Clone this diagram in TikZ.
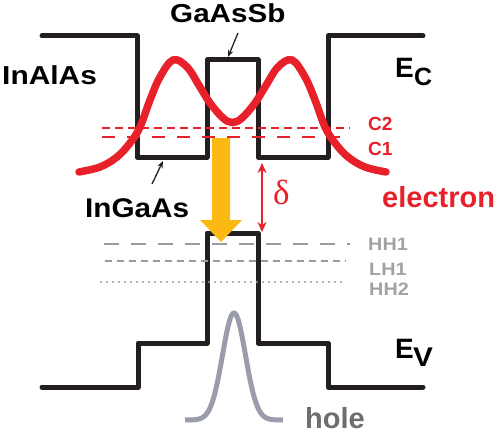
\documentclass[tikz,border=0pt]{standalone}
\usepackage{fontspec}
\setmainfont{Liberation Sans}
\newfontfamily\greekserif{Liberation Serif}
\usetikzlibrary{arrows.meta}
\definecolor{ered}{HTML}{E8202A}
\definecolor{egold}{HTML}{FDB913}
\definecolor{hgray}{HTML}{9A9CAB}
\definecolor{lgray}{HTML}{9B9B9B}
\definecolor{tgray}{HTML}{A2A2A2}
\definecolor{holetxt}{HTML}{6E6E6E}
\definecolor{bandc}{HTML}{231F20}
\newcommand{\fsz}[1]{\fontsize{#1}{#1}\selectfont\bfseries}
\begin{document}
\begin{tikzpicture}[x=1pt,y=-1pt,
  bandline/.style={draw=bandc,line width=5pt,line join=round,line cap=round},
  lbl/.style={anchor=base west,inner sep=0pt},
  ptr/.style={draw=bandc,line width=1.3pt,-{Stealth[length=7pt,width=5.5pt]}},
  redlevel/.style={draw=ered,line width=2.6pt},
  graylevel/.style={draw=lgray,line width=2.8pt}]
\useasboundingbox (0,0) rectangle (500,433);
% conduction band
\draw[bandline] (42,36) -- (137,36) -- (137,157) -- (207,157) -- (207,60) -- (258,60)
  -- (258,157) -- (328,157) -- (328,36) -- (423,36);
% valence band
\draw[bandline] (42,387) -- (138,387) -- (138,343) -- (207,343) -- (207,233) -- (258,233)
  -- (258,343) -- (328,343) -- (328,387) -- (423,387);
% electron levels
\draw[redlevel,dash pattern=on 8pt off 5pt] (102,128) -- (350,128);
\draw[redlevel,dash pattern=on 13pt off 12pt] (102,137) -- (350,137);
% electron wavefunction
\draw[ered,line width=7.5pt,line cap=round] plot[smooth,tension=0.6] coordinates {
 (79,172) (100,167) (117,157) (130,143) (140,127) (150,100) (160,77) (173,60)
 (187,67) (200,87) (210,103) (223,118) (232.5,122.5) (242,118) (255,103) (265,87)
 (278,67) (292,60) (305,77) (315,100) (325,127) (335,143) (348,157) (365,167) (386,172)};
% hole levels
\draw[graylevel,dash pattern=on 15pt off 12pt] (104,244) -- (350,244);
\draw[graylevel,dash pattern=on 7pt off 5pt] (105,261) -- (346,261);
\draw[graylevel,line width=2.2pt,line cap=round,dash pattern=on 0pt off 6pt] (101,282) -- (344,282);
% hole wavefunction
\draw[hgray,line width=5pt] plot[domain=185:283,samples=120] (\x,{420-107*exp(-((\x-234)^2)/264)});
% yellow transition arrow
\fill[egold] (212,138) -- (230,138) -- (230,220) -- (242,220) -- (221,242) -- (200,220) -- (212,220) -- cycle;
% delta arrow
\coordinate (cbot) at (262,163);
\coordinate (vtop) at (262,232);
\draw[ered,line width=2.4pt,{Stealth[length=10pt,width=9pt]}-{Stealth[length=10pt,width=9pt]}] (cbot) -- (vtop);
\node[anchor=base west,inner sep=0pt,text=ered] (delta) at (273,204) {\fontsize{35}{35}\selectfont\greekserif δ};
% labels
\node[lbl] (inalas) at (2,85) {\fsz{26}\scalebox{1.15}[1]{InAlAs}};
\node[lbl] (gaassb) at (170,23) {\fsz{26}\scalebox{1.14}[1]{GaAsSb}};
\node[lbl] (ingaas) at (85,217) {\fsz{27}\scalebox{1.1}[1]{InGaAs}};
\coordinate (p1s) at (152,184);
\coordinate (p1e) at (163,161);
\coordinate (p2s) at (238,33);
\coordinate (p2e) at (228,57);
\draw[ptr] (p1s) -- (p1e);
\draw[ptr] (p2s) -- (p2e);
\node[lbl] (ec) at (395,78) {\fsz{28}E};
\node[lbl] (ecsub) at (414,86) {\fsz{25}C};
\node[lbl] (ev) at (395,358) {\fsz{28}E};
\node[lbl] (evsub) at (413,366) {\fsz{27}\scalebox{1.1}[1]{V}};
\node[lbl,text=ered] (electron) at (382,207) {\fsz{29}electron};
\node[lbl,text=holetxt] (hole) at (305,428) {\fsz{29}hole};
\node[lbl,text=ered] (c2) at (368,130) {\fsz{19}C2};
\node[lbl,text=ered] (c1) at (368,155) {\fsz{19}C1};
\node[lbl,text=tgray] (hh1) at (368,250) {\fsz{18}\scalebox{1.1}[1]{HH1}};
\node[lbl,text=tgray] (lh1) at (369,275) {\fsz{18}\scalebox{1.1}[1]{LH1}};
\node[lbl,text=tgray] (hh2) at (369,295) {\fsz{18}\scalebox{1.1}[1]{HH2}};
\end{tikzpicture}
\end{document}
